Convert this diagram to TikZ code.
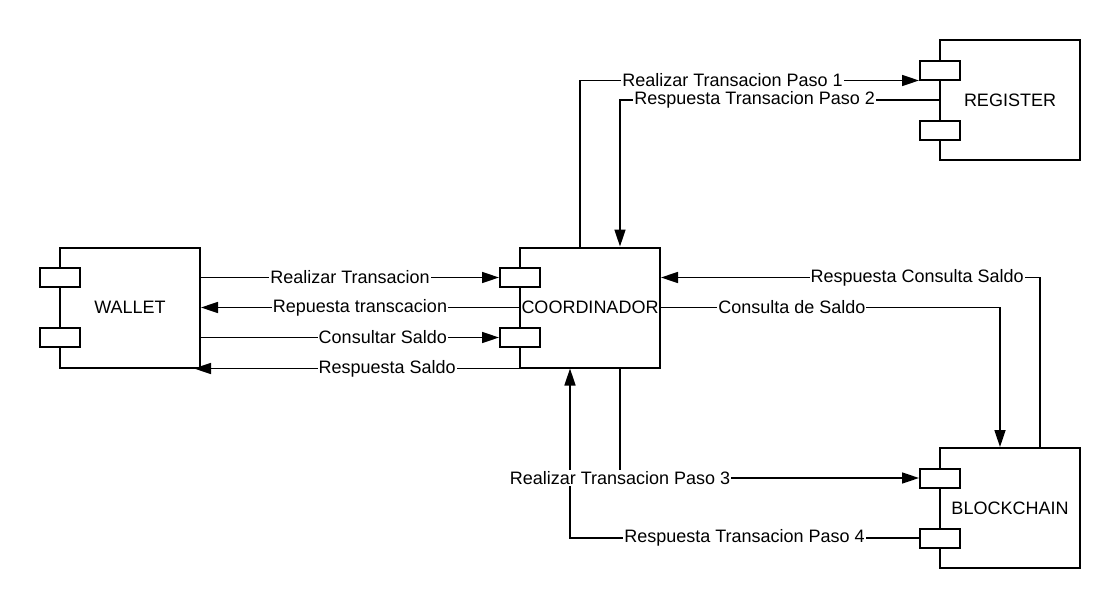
\documentclass[tikz,border=0pt]{standalone}
\usepackage{fontspec}
\setmainfont{Liberation Sans}
\usepackage{tikz}
\usetikzlibrary{shapes}
\usetikzlibrary{arrows.meta}

\begin{document}
\begin{tikzpicture}[x=1pt,y=-1pt,
  every node/.style={font=\fontsize{18}{21}\selectfont},
  comp/.style={draw, rectangle, line width=2pt, minimum width=140pt, minimum height=120pt, inner sep=0pt},
  port/.style={draw, rectangle, fill=white, line width=2pt, minimum width=40pt, minimum height=19pt, inner sep=0pt},
  lbl/.style={fill=white, inner sep=1pt},
  >={Triangle[length=17pt,width=11pt]}]
\useasboundingbox (0,0) rectangle (1120,608);

\node[comp] (w) at (130,307.5) {WALLET};
\node[comp] (c) at (590,307.5) {COORDINADOR};
\node[comp] (r) at (1010,100) {REGISTER};
\node[comp] (k) at (1010,508) {BLOCKCHAIN};

\node[port] (w1) at (60,277.5) {};
\node[port] (w2) at (60,337.5) {};
\node[port] (c1) at (520,277.5) {};
\node[port] (c2) at (520,337.5) {};
\node[port] (r1) at (940,70) {};
\node[port] (r2) at (940,130) {};
\node[port] (k1) at (940,478) {};
\node[port] (k2) at (940,538) {};

\begin{scope}
     \pgfsetlinewidth{1.7pt}
\draw[->] (w.east |- w1) -- (c1.west) node[lbl,pos=0.5] {Realizar Transacion};
\draw[->] (c.west) -- (w.east) node[lbl,pos=0.5] {Repuesta transcacion};
\draw[->] (w.east |- w2) -- (c2.west) node[lbl,pos=0.61] {Consultar Saldo};
\draw[->] ([xshift=20pt]c.south west) -- ([xshift=-7pt]w.south east) node[lbl,pos=0.44] {Respuesta Saldo};
\draw[->] ([xshift=-10pt]c.north) |- (r1.south west) node[lbl,pos=0.725] {Realizar Transacion Paso 1};
\draw[->] (r.west) -| ([xshift=30pt]c.north) node[lbl,pos=0.289] {Respuesta Transacion Paso 2};
\draw[->] (c.east) -| ([xshift=-10pt]k.north) node[lbl,pos=0.193] {Consulta de Saldo};
\draw[->] ([xshift=30pt]k.north) |- (c.east |- c1) node[lbl,pos=0.662] {Respuesta Consulta Saldo};
% paso 4 goes first, the paso 3 label covers its line
\draw[->] (k2.west) -| ([xshift=-20pt]c.south) node[lbl,pos=0.25] {Respuesta Transacion Paso 4};
\draw[->] ([xshift=30pt]c.south) |- (k1.west) node[lbl,pos=0.5] {Realizar Transacion Paso 3};
     \end{scope}

\end{tikzpicture}
\end{document}
